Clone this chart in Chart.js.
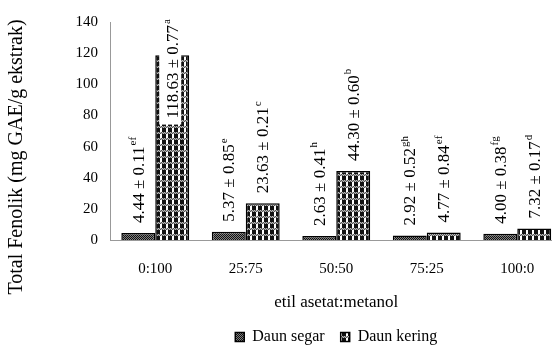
<!DOCTYPE html>
<html>
<head>
<meta charset="utf-8">
<script src="https://cdn.jsdelivr.net/npm/chart.js@4.4.1/dist/chart.umd.min.js"></script>
<style>
  html, body { margin: 0; padding: 0; background: #fff; overflow: hidden; }
  #wrap { width: 552px; height: 346px; overflow: hidden; }
</style>
</head>
<body>
<div id="wrap"><canvas id="fenolikChart" width="580" height="346"></canvas></div>
<script>
// Data
const categories = ['0:100', '25:75', '50:50', '75:25', '100:0'];
const segarValues = [4.44, 5.37, 2.63, 2.92, 4.00];
const segarSd = [0.11, 0.85, 0.41, 0.52, 0.38];
const segarLetters = ['ef', 'e', 'h', 'gh', 'fg'];
const keringValues = [118.63, 23.63, 44.30, 4.77, 7.32];
const keringSd = [0.77, 0.21, 0.60, 0.84, 0.17];
const keringLetters = ['a', 'c', 'b', 'ef', 'd'];
const yTicks = [0, 20, 40, 60, 80, 100, 120, 140];

const FONT = "'Liberation Serif', 'Times New Roman', serif";
const Y_TITLE = 'Total Fenolik (mg GAE/g ekstrak)';

// Build small repeating fills like the hatched bars of the original
function makePattern(w, h, draw) {
  const c = document.createElement('canvas');
  c.width = w;
  c.height = h;
  const g = c.getContext('2d');
  draw(g);
  return g.createPattern(c, 'repeat');
}

// dark stipple for "Daun segar"
const segarFill = makePattern(2, 2, g => {
  g.fillStyle = '#808080';
  g.fillRect(0, 0, 2, 2);
  g.fillStyle = '#111';
  g.fillRect(0, 0, 1, 1);
  g.fillRect(1, 1, 1, 1);
});

// black blocks with grey bands for "Daun kering"
const keringFill = makePattern(6, 6, g => {
  g.fillStyle = '#fff';
  g.fillRect(0, 0, 6, 6);
  for (let x = 0; x < 6; x++) {
    g.fillStyle = x % 2 ? '#555' : '#bbb';
    g.fillRect(x, 0, 1, 1);
    g.fillStyle = x % 2 ? '#bbb' : '#555';
    g.fillRect(x, 1, 1, 1);
  }
  g.fillStyle = '#111';
  g.fillRect(0, 2, 4, 4);
});

// Vertical "mean ± sd" labels above each bar
const valueLabels = {
  id: 'valueLabels',
  afterDatasetsDraw(chart) {
    const ctx = chart.ctx;
    const area = chart.chartArea;
    const groups = [
      [segarValues, segarSd, segarLetters],
      [keringValues, keringSd, keringLetters]
    ];
    chart.data.datasets.forEach((ds, di) => {
      const meta = chart.getDatasetMeta(di);
      const [vals, sds, letters] = groups[di];
      meta.data.forEach((bar, i) => {
        const main = vals[i].toFixed(2) + ' \u00b1 ' + sds[i].toFixed(2);
        ctx.save();
        ctx.font = '17px ' + FONT;
        const w1 = ctx.measureText(main).width;
        ctx.font = '11px ' + FONT;
        const w2 = ctx.measureText(letters[i]).width;
        const len = w1 + w2 + 1;
        let start = bar.y - 10;
        // keep tall labels inside the plot, drawn over the bar
        if (start - len < area.top - 3) start = area.top - 3 + len;
        ctx.translate(bar.x, start);
        ctx.rotate(-Math.PI / 2);
        ctx.fillStyle = '#fff';
        ctx.fillRect(-6, -13, len + 10, 22);
        ctx.fillStyle = '#000';
        ctx.textBaseline = 'middle';
        ctx.font = '17px ' + FONT;
        ctx.fillText(main, 0, 1);
        ctx.font = '11px ' + FONT;
        ctx.fillText(letters[i], w1 + 1, -5);
        ctx.restore();
      });
    });
  }
};

// Y axis title, sitting a bit lower than the plot centre like the original
const yAxisTitle = {
  id: 'yAxisTitle',
  afterDraw(chart) {
    const ctx = chart.ctx;
    ctx.save();
    ctx.translate(17, 157);
    ctx.rotate(-Math.PI / 2);
    ctx.font = '20px ' + FONT;
    ctx.fillStyle = '#000';
    ctx.textAlign = 'center';
    ctx.textBaseline = 'middle';
    ctx.fillText(Y_TITLE, 0, 0);
    ctx.restore();
  }
};

const ctx = document.getElementById('fenolikChart').getContext('2d');
new Chart(ctx, {
  type: 'bar',
  data: {
    labels: categories,
    datasets: [
      {
        label: 'Daun segar',
        data: segarValues,
        backgroundColor: segarFill,
        borderColor: '#000',
        borderWidth: 1.5
      },
      {
        label: 'Daun kering',
        data: keringValues,
        backgroundColor: keringFill,
        borderColor: '#000',
        borderWidth: 1.5
      }
    ]
  },
  options: {
    responsive: false,
    devicePixelRatio: 1,
    animation: false,
    categoryPercentage: 0.75,
    barPercentage: 1.0,
    layout: {
      padding: { top: 22, right: 17.5, left: 0, bottom: -9 }
    },
    plugins: {
      tooltip: { enabled: false },
      legend: {
        position: 'bottom',
        fullSize: false,
        labels: {
          font: { family: FONT, size: 16 },
          color: '#000',
          boxWidth: 9,
          boxHeight: 9,
          padding: 16
        }
      }
    },
    scales: {
      x: {
        grid: { display: false, drawTicks: false },
        border: { display: true, color: '#999', width: 1 },
        ticks: {
          font: { family: FONT, size: 15 },
          color: '#000',
          padding: 20
        },
        title: {
          display: true,
          text: 'etil asetat:metanol',
          font: { family: FONT, size: 17 },
          color: '#000',
          padding: 0
        },
        afterFit: s => { s.height = 73; }
      },
      y: {
        min: 0,
        max: 140,
        grid: { display: false, drawTicks: false },
        border: { display: true, color: '#999', width: 1 },
        ticks: {
          font: { family: FONT, size: 15 },
          color: '#000',
          padding: 12
        },
        afterBuildTicks: s => { s.ticks = yTicks.map(v => ({ value: v })); },
        afterFit: s => { s.width = 110; }
      }
    }
  },
  plugins: [valueLabels, yAxisTitle]
});
</script>
</body>
</html>
